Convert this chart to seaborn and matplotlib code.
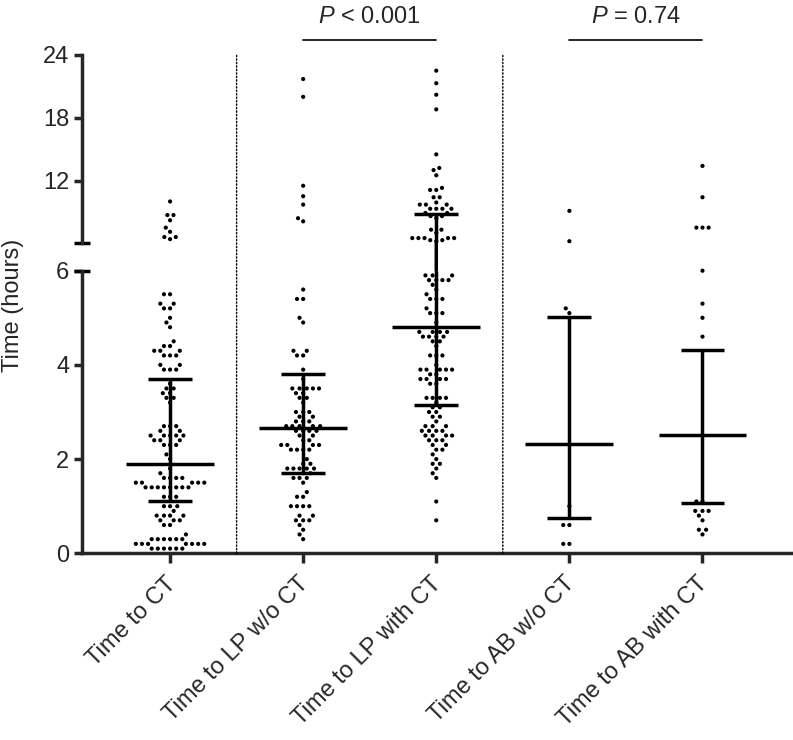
import numpy as np
import pandas as pd
import matplotlib
matplotlib.use('Agg')
import matplotlib.pyplot as plt
from matplotlib.patches import ConnectionPatch
from matplotlib.transforms import blended_transform_factory, ScaledTranslation
import seaborn as sns

########################################
# DATA (hours)
########################################
categories = ["Time to CT", "Time to LP w/o CT", "Time to LP with CT",
              "Time to AB w/o CT", "Time to AB with CT"]

time_to_ct = [
    10.0, 8.7, 8.7, 8.2, 7.5, 7.1, 6.6, 6.6, 6.4,
    5.5, 5.5, 5.3, 5.3, 5.2, 5.2, 5.0, 4.9, 4.8, 4.5, 4.4, 4.4,
    4.3, 4.3, 4.3, 4.2, 4.2, 4.2, 4.0, 4.0, 3.9, 3.9, 3.9, 3.6,
    3.5, 3.5, 3.4, 3.4, 3.3, 3.3, 3.2, 2.7, 2.7, 2.7, 2.6, 2.6,
    2.5, 2.5, 2.5, 2.5, 2.5, 2.4, 2.4, 2.4, 2.3, 2.3, 2.3, 2.1, 2.0,
    1.8, 1.7, 1.6, 1.6, 1.6, 1.6, 1.5, 1.5, 1.5, 1.5, 1.5,
    1.4, 1.4, 1.4, 1.4, 1.4, 1.4, 1.4, 1.4, 1.2, 1.2, 1.2,
    1.0, 1.0, 1.0, 0.9, 0.8, 0.8, 0.8, 0.8, 0.7, 0.7, 0.7, 0.6, 0.6,
    0.4, 0.3, 0.3, 0.3, 0.3, 0.3, 0.3, 0.2, 0.2, 0.2, 0.2, 0.2, 0.2, 0.2,
    0.1, 0.1, 0.1, 0.1, 0.1, 0.1,
]

lp_without_ct = [
    21.7, 20.0, 11.5, 10.5, 9.7, 8.4, 8.1,
    5.6, 5.4, 5.4, 5.0, 4.9, 4.3, 4.3, 4.2, 4.2, 3.9, 3.7,
    3.5, 3.5, 3.5, 3.5, 3.5, 3.4, 3.4, 3.3, 3.3, 3.2,
    3.0, 3.0, 3.0, 2.9, 2.9, 2.8, 2.8, 2.8, 2.7, 2.7, 2.7, 2.7, 2.7,
    2.6, 2.6, 2.6, 2.6, 2.5, 2.5, 2.4, 2.4, 2.3, 2.3, 2.3, 2.3,
    2.2, 2.2, 2.2, 2.2, 2.0, 1.9, 1.9, 1.8, 1.8, 1.8, 1.8, 1.8,
    1.7, 1.7, 1.6, 1.6, 1.6, 1.5, 1.3, 1.2, 1.2,
    1.0, 1.0, 1.0, 1.0, 0.8, 0.8, 0.7, 0.7, 0.7, 0.6, 0.5, 0.4, 0.3,
]

lp_with_ct = [
    22.5, 21.3, 20.2, 18.8, 14.5, 13.2, 13.0, 12.5, 11.3, 11.1, 11.1,
    10.4, 10.4, 9.9, 9.7, 9.7, 9.7, 9.3, 9.3, 9.3, 9.3, 8.9, 8.9,
    8.6, 8.6, 8.4, 7.3, 7.3, 7.0, 6.5, 6.5, 6.5, 6.5, 6.5, 6.3, 6.3, 6.2,
    5.9, 5.9, 5.9, 5.8, 5.8, 5.8, 5.8, 5.7, 5.6, 5.5, 5.4, 5.4, 5.4,
    5.2, 5.1, 5.1, 5.1, 4.9, 4.7, 4.7, 4.7, 4.7, 4.6, 4.6, 4.6, 4.6,
    4.5, 4.5, 4.4, 4.2, 4.2, 4.2, 4.0, 3.9, 3.9, 3.9, 3.9, 3.9,
    3.8, 3.8, 3.7, 3.7, 3.7, 3.7, 3.6, 3.6, 3.3, 3.3, 3.3, 3.3, 3.2,
    3.1, 3.1, 3.0, 3.0, 2.9, 2.9, 2.8, 2.7, 2.7, 2.7, 2.6, 2.6, 2.6, 2.6,
    2.5, 2.5, 2.5, 2.5, 2.4, 2.4, 2.4, 2.3, 2.3, 2.2, 2.2, 2.1, 2.0,
    1.9, 1.9, 1.8, 1.7, 1.6, 1.1, 0.7,
]

ab_without_ct = [9.1, 6.2, 5.2, 5.1, 1.0, 0.6, 0.6, 0.2, 0.2]

ab_with_ct = [13.4, 10.4, 7.5, 7.5, 7.5, 6.0, 5.3, 5.0, 4.6,
              1.1, 1.1, 0.9, 0.9, 0.9, 0.8, 0.7, 0.5, 0.5, 0.4]

# median with interquartile range
medians = [1.90, 2.65, 4.80, 2.31, 2.51]
q1 = [1.10, 1.70, 3.15, 0.75, 1.07]
q3 = [3.71, 3.81, 8.83, 5.01, 4.31]

p_pairs = [(1, 2), (3, 4)]
p_labels = ["$P$ < 0.001", "$P$ = 0.74"]
separators_after = [0, 2]

BREAK = 6
FS = 17

########################################
# LONG FORMAT
########################################
all_vals = [time_to_ct, lp_without_ct, lp_with_ct, ab_without_ct, ab_with_ct]
df = pd.DataFrame({
    "group": np.repeat(categories, [len(v) for v in all_vals]),
    "hours": np.concatenate(all_vals),
})
low = df[df["hours"] <= BREAK]
high = df[df["hours"] > BREAK]

########################################
# PLOT
########################################
sns.set_style("ticks")
plt.rcParams['font.family'] = ['Liberation Sans', 'DejaVu Sans']
plt.rcParams['mathtext.fontset'] = 'custom'
plt.rcParams['mathtext.it'] = 'Liberation Sans:italic'
plt.rcParams['mathtext.rm'] = 'Liberation Sans'

fig = plt.figure(figsize=(7.93, 7.40), dpi=100)
ax_lo = fig.add_axes([0.103, 0.2523, 0.897, 0.3819])
ax_hi = fig.add_axes([0.103, 0.6712, 0.897, 0.2545])

# invisible edge width only widens the spacing the swarm keeps between dots
swarm_kw = dict(x="group", y="hours", order=categories, color="black",
                size=3, linewidth=1.2, edgecolor="none")
sns.swarmplot(data=low, ax=ax_lo, **swarm_kw)
sns.swarmplot(data=high, ax=ax_hi, **swarm_kw)

for ax in (ax_lo, ax_hi):
    ax.set_xlim(-0.664, 4.68)
    ax.set_xlabel("")
    ax.set_ylabel("")
    sns.despine(ax=ax)
    ax.spines['left'].set_linewidth(2.5)
    ax.tick_params(axis='y', width=2.5, length=6, labelsize=FS, pad=3)
    for coll in ax.collections:
        coll.set_clip_on(False)

ax_lo.set_ylim(0, BREAK)
ax_lo.set_yticks([0, 2, 4, 6])
ax_hi.set_ylim(BREAK, 24)
ax_hi.set_yticks([12, 18, 24])

ax_hi.spines['bottom'].set_visible(False)
ax_hi.tick_params(axis='x', bottom=False, labelbottom=False)
ax_lo.spines['bottom'].set_linewidth(2.5)
ax_lo.tick_params(axis='x', width=2.5, length=7, labelsize=FS, pad=5)
ax_lo.set_xticks(range(len(categories)))
ax_lo.set_xticklabels(categories, rotation=45, ha='right', rotation_mode='anchor')
shift = ScaledTranslation(-4 / 72, -2 / 72, fig.dpi_scale_trans)
for lab in ax_lo.get_xticklabels():
    lab.set_transform(lab.get_transform() + shift)

# break marks on the y axis
for ax in (ax_lo, ax_hi):
    tr = blended_transform_factory(ax.transAxes, ax.transData)
    ax.plot([0], [BREAK], marker='_', markersize=12, mew=2.5, color='black',
            transform=tr, clip_on=False)

# median + IQR bars
bar_kw = dict(color='black', lw=2.5, zorder=5)


def axis_for(v):
    return ax_hi if v > BREAK else ax_lo


for i in range(len(categories)):
    axis_for(medians[i]).hlines(medians[i], i - 0.33, i + 0.33, **bar_kw)
    for v in (q1[i], q3[i]):
        axis_for(v).hlines(v, i - 0.165, i + 0.165, **bar_kw)
    if q3[i] <= BREAK:
        ax_lo.vlines(i, q1[i], q3[i], **bar_kw)
    else:
        ax_lo.vlines(i, q1[i], BREAK, **bar_kw)
        ax_hi.vlines(i, BREAK, q3[i], **bar_kw)
        fig.add_artist(ConnectionPatch((i, BREAK), (i, BREAK),
                                       coordsA=ax_lo.transData, coordsB=ax_hi.transData,
                                       color='black', lw=2.5))

# dotted separators spanning both panels
for s in separators_after:
    fig.add_artist(ConnectionPatch((s + 0.5, 0), (s + 0.5, 24),
                                   coordsA=ax_lo.transData, coordsB=ax_hi.transData,
                                   color='black', lw=1, linestyle=(0, (1, 1.5))))

# p-value brackets
for (a, b), lab in zip(p_pairs, p_labels):
    ax_hi.plot([a, b], [25.45, 25.45], color='black', lw=1.2, clip_on=False)
    ax_hi.text((a + b) / 2, 27.1, lab, ha='center', va='baseline', fontsize=FS)

fig.text(0.017, 0.588, "Time (hours)", rotation=90, ha='center', va='center', fontsize=FS)

plt.savefig("out.png", dpi=100)
plt.close()
